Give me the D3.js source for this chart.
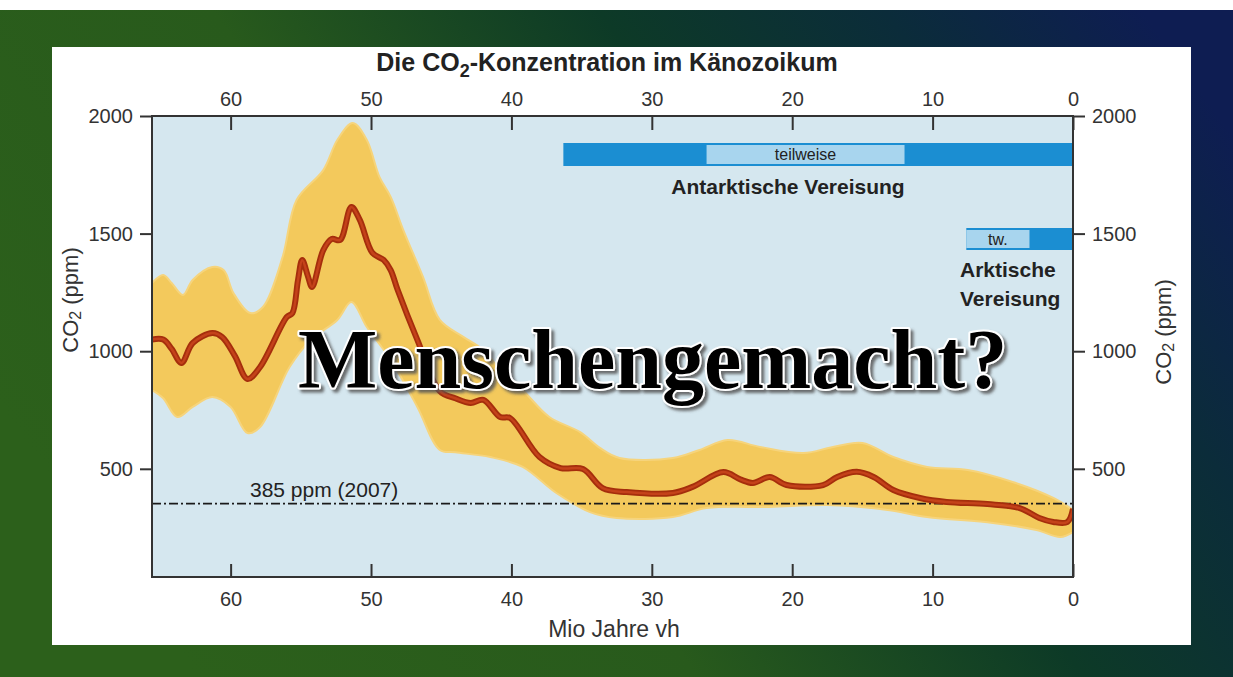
<!DOCTYPE html>
<html><head><meta charset="utf-8">
<script src="https://cdn.jsdelivr.net/npm/d3@7"></script>
<style>
html,body{margin:0;padding:0;background:#fff;}
svg{display:block;}
</style></head>
<body>
<svg id="c" width="1233" height="677"></svg>
<script>
// ---------- data ----------
const xTicks = [60, 50, 40, 30, 20, 10, 0];
const yTicks = [500, 1000, 1500, 2000];

// central estimate (Mio Jahre vh, ppm)
const midAge = [65.6, 64.8, 64.2, 63.5, 62.7, 61.3, 60.6, 59.7, 58.8, 57.9, 56.0, 55.6, 55.2, 54.9, 54.5, 54.2, 53.4, 52.8, 52.2, 51.4, 50.8, 49.9, 49.1, 48.6, 48.1, 46.7, 45.1, 44.0, 42.9, 42.0, 40.8, 40.1, 38.0, 36.5, 34.9, 33.5, 31.8, 28.5, 27.1, 24.9, 23.7, 22.8, 21.6, 20.4, 17.8, 16.8, 15.4, 14.2, 12.8, 10.9, 9.0, 6.1, 3.8, 2.4, 1.4, 0.4, 0.0];
const midPpm = [1050, 1050, 1010, 950, 1035, 1077, 1060, 980, 882, 933, 1145, 1162, 1303, 1388, 1320, 1273, 1430, 1477, 1473, 1613, 1558, 1418, 1388, 1345, 1260, 1048, 830, 800, 780, 793, 720, 716, 550, 503, 499, 418, 401, 397, 423, 486, 455, 440, 465, 431, 431, 465, 487, 465, 410, 376, 359, 350, 333, 291, 274, 274, 330];

// uncertainty band, upper edge
const upAge = [65.6, 64.8, 64.2, 63.4, 62.7, 61.3, 60.5, 59.8, 58.6, 57.7, 56.3, 55.3, 53.4, 52.4, 51.3, 50.3, 49.4, 48.6, 47.7, 46.3, 45.1, 43.4, 42.0, 40.8, 39.2, 37.3, 35.1, 33.7, 32.3, 28.5, 26.6, 24.6, 22.3, 19.2, 17.1, 15.0, 12.8, 10.4, 7.5, 4.3, 1.4, 0.0];
const upPpm = [1290, 1324, 1290, 1239, 1303, 1358, 1345, 1247, 1162, 1188, 1400, 1643, 1770, 1898, 1970, 1898, 1741, 1656, 1515, 1316, 1133, 1060, 1005, 920, 835, 720, 656, 589, 546, 546, 580, 622, 593, 567, 593, 610, 550, 508, 495, 444, 376, 325];

// uncertainty band, lower edge
const loAge = [65.6, 64.8, 63.8, 62.7, 61.3, 60.0, 58.8, 57.9, 55.8, 54.3, 52.4, 51.4, 50.3, 48.6, 46.7, 45.1, 44.0, 41.5, 39.2, 36.8, 34.4, 32.5, 28.5, 26.1, 21.6, 17.5, 13.2, 10.4, 5.7, 2.6, 0.9, 0.0];
const loPpm = [835, 800, 720, 763, 805, 763, 652, 678, 933, 1048, 1133, 1209, 1103, 963, 763, 580, 570, 550, 508, 397, 316, 291, 295, 333, 338, 346, 325, 295, 270, 240, 210, 231];

// reference line (drawn position) and its label
const refPpm = 352;
const refLabel = "385 ppm (2007)";

// glaciation bars: [start, end] in Mio Jahre vh
const antarcticFull = [36.3, 0];
const antarcticPartial = [26.1, 12.0];
const arcticFull = [7.6, 0];
const arcticPartial = [7.6, 3.1];

// ---------- drawing ----------
const SANS = "\"Liberation Sans\", Arial, sans-serif";
const SERIF = "\"Liberation Serif\", \"Times New Roman\", \"DejaVu Serif\", serif";
const svg = d3.select("#c").style("font-family", SANS);
const W = 1233, H = 677;
const defs = svg.append("defs");

const bg = defs.append("linearGradient").attr("id", "bg")
  .attr("x1", "0").attr("y1", "0.6").attr("x2", "1").attr("y2", "0.2");
bg.append("stop").attr("offset", "0").attr("stop-color", "#2c601b");
bg.append("stop").attr("offset", "0.35").attr("stop-color", "#285a1c");
bg.append("stop").attr("offset", "0.62").attr("stop-color", "#0d3a27");
bg.append("stop").attr("offset", "0.82").attr("stop-color", "#0b2c3a");
bg.append("stop").attr("offset", "1").attr("stop-color", "#0e1d52");

const sh = defs.append("filter").attr("id", "shadow")
  .attr("x", "-5%").attr("y", "-20%").attr("width", "115%").attr("height", "150%");
sh.append("feDropShadow").attr("dx", 3).attr("dy", 3).attr("stdDeviation", 1.6)
  .attr("flood-color", "#555").attr("flood-opacity", 0.85);

svg.append("rect").attr("width", W).attr("height", H).attr("fill", "url(#bg)");
svg.append("rect").attr("width", W).attr("height", 10).attr("fill", "#ffffff");

// white panel
svg.append("rect").attr("x", 52).attr("y", 47).attr("width", 1139).attr("height", 598).attr("fill", "#ffffff");

const x = d3.scaleLinear().domain([65.6, 0]).range([152, 1073]);
const y = d3.scaleLinear().domain([40, 2000]).range([577, 116]);

const px0 = x.range()[0], px1 = x.range()[1];
const py0 = y.range()[1], py1 = y.range()[0];

defs.append("clipPath").attr("id", "plotclip").append("rect")
  .attr("x", px0).attr("y", py0).attr("width", px1 - px0).attr("height", py1 - py0);

svg.append("rect").attr("x", px0).attr("y", py0).attr("width", px1 - px0).attr("height", py1 - py0)
  .attr("fill", "#d5e7ef");

const plot = svg.append("g").attr("clip-path", "url(#plotclip)");

// band
const lineGen = d3.line().x(d => x(d[0])).y(d => y(d[1])).curve(d3.curveCatmullRom.alpha(0.5));
const upPts = upAge.map((a, i) => [a, upPpm[i]]);
const loPts = loAge.map((a, i) => [a, loPpm[i]]).reverse();
const bandPath = lineGen(upPts) + "L" + lineGen(loPts).slice(1) + "Z";
plot.append("path").attr("d", bandPath).attr("fill", "#f3c95c")
  .attr("stroke", "#f6d47c").attr("stroke-width", 2);

// reference dashed line
plot.append("line").attr("x1", px0).attr("x2", px1)
  .attr("y1", y(refPpm)).attr("y2", y(refPpm))
  .attr("stroke", "#1a1a1a").attr("stroke-width", 1.6).attr("stroke-dasharray", "9,3,2,3");

// central line
const midPts = midAge.map((a, i) => [a, midPpm[i]]);
plot.append("path").attr("d", lineGen(midPts)).attr("fill", "none")
  .attr("stroke", "#a52e0c").attr("stroke-width", 6).attr("stroke-linejoin", "round");
plot.append("path").attr("d", lineGen(midPts)).attr("fill", "none")
  .attr("stroke", "#c4421a").attr("stroke-width", 2.5).attr("stroke-linejoin", "round");

// glaciation bars
const barG = svg.append("g");
function bar(range, y0, y1, fill) {
  barG.append("rect").attr("x", x(range[0])).attr("width", x(range[1]) - x(range[0]))
    .attr("y", y0).attr("height", y1 - y0).attr("fill", fill);
}
bar(antarcticFull, 143, 166, "#1b8ed2");
bar(antarcticPartial, 145, 164, "#a8d5ee");
bar(arcticFull, 228, 250, "#1b8ed2");
bar(arcticPartial, 230, 248, "#a8d5ee");

barG.append("text").attr("x", (x(antarcticPartial[0]) + x(antarcticPartial[1])) / 2).attr("y", 160)
  .attr("text-anchor", "middle").attr("font-size", 16).attr("fill", "#222").text("teilweise");
barG.append("text").attr("x", 788).attr("y", 194)
  .attr("text-anchor", "middle").attr("font-size", 21).attr("font-weight", "bold").attr("fill", "#222")
  .text("Antarktische Vereisung");
barG.append("text").attr("x", (x(arcticPartial[0]) + x(arcticPartial[1])) / 2).attr("y", 245)
  .attr("text-anchor", "middle").attr("font-size", 16).attr("fill", "#222").text("tw.");
barG.append("text").attr("x", 960).attr("y", 277)
  .attr("font-size", 21).attr("font-weight", "bold").attr("fill", "#222").text("Arktische");
barG.append("text").attr("x", 960).attr("y", 306)
  .attr("font-size", 21).attr("font-weight", "bold").attr("fill", "#222").text("Vereisung");

// reference label
svg.append("text").attr("x", 250).attr("y", 497).attr("font-size", 21).attr("fill", "#222").text(refLabel);

// axes
function styleAxis(g) {
  g.attr("font-family", null).attr("font-size", null);
  g.select(".domain").remove();
  g.selectAll("line").attr("stroke", "#333").attr("stroke-width", 2);
  g.selectAll("text").attr("font-size", 20).attr("fill", "#333");
}
svg.append("g").attr("transform", `translate(0,${py0})`)
  .call(d3.axisTop(x).tickValues(xTicks).tickFormat(d3.format("d")).tickSize(-14).tickSizeOuter(0).tickPadding(10))
  .call(styleAxis);
svg.append("g").attr("transform", `translate(0,${py1})`)
  .call(d3.axisBottom(x).tickValues(xTicks).tickFormat(d3.format("d")).tickSize(-13).tickSizeOuter(0).tickPadding(15))
  .call(styleAxis);
svg.append("g").attr("transform", `translate(${px0},0)`)
  .call(d3.axisLeft(y).tickValues(yTicks).tickFormat(d3.format("d")).tickSize(12).tickSizeOuter(0).tickPadding(7))
  .call(styleAxis);
svg.append("g").attr("transform", `translate(${px1},0)`)
  .call(d3.axisRight(y).tickValues(yTicks).tickFormat(d3.format("d")).tickSize(12).tickSizeOuter(0).tickPadding(7))
  .call(styleAxis);

// frame
svg.append("rect").attr("x", px0).attr("y", py0).attr("width", px1 - px0).attr("height", py1 - py0)
  .attr("fill", "none").attr("stroke", "#333").attr("stroke-width", 2);

// axis titles
function co2Label(cx, cy) {
  const t = svg.append("text").attr("transform", `translate(${cx},${cy}) rotate(-90)`)
    .attr("text-anchor", "middle").attr("dominant-baseline", "central")
    .attr("font-size", 22).attr("fill", "#333");
  t.append("tspan").text("CO");
  t.append("tspan").attr("font-size", 16).attr("dy", 5).text("2");
  t.append("tspan").attr("dy", -5).text(" (ppm)");
}
co2Label(70, 300);
co2Label(1163, 332);

svg.append("text").attr("x", 614).attr("y", 637).attr("text-anchor", "middle")
  .attr("font-size", 23).attr("fill", "#333").text("Mio Jahre vh");

// title
const title = svg.append("text").attr("x", 607).attr("y", 71).attr("text-anchor", "middle")
  .attr("font-size", 25).attr("font-weight", "bold").attr("fill", "#222");
title.append("tspan").text("Die CO");
title.append("tspan").attr("font-size", 18).attr("dy", 6).text("2");
title.append("tspan").attr("dy", -6).text("-Konzentration im Känozoikum");

// overlay caption
svg.append("text").attr("x", 298).attr("y", 388)
  .style("font-family", SERIF)
  .attr("font-size", 84).attr("font-weight", "bold")
  .attr("fill", "#000").attr("stroke", "#fff").attr("stroke-width", 4)
  .attr("paint-order", "stroke").attr("stroke-linejoin", "round")
  .attr("filter", "url(#shadow)")
  .text("Menschengemacht?");
</script>
</body></html>
